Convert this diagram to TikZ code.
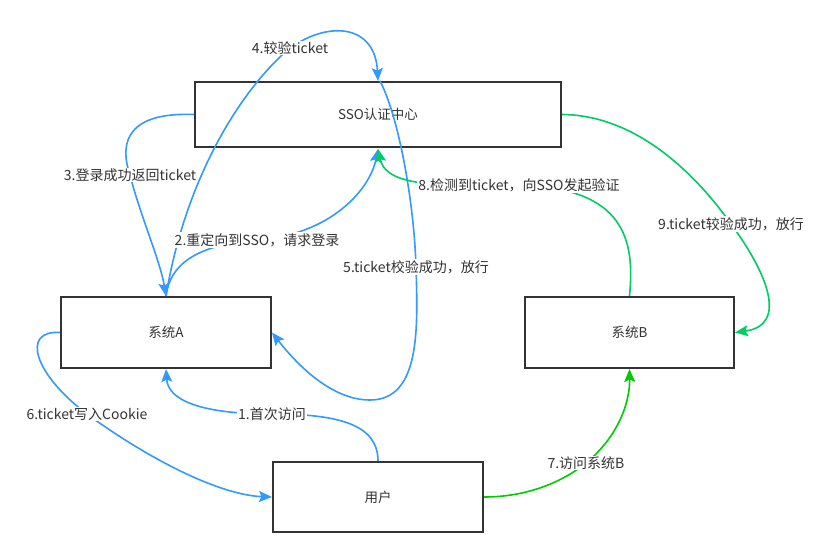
\documentclass[tikz,border=0pt]{standalone}
\usepackage{fontspec}
\setmainfont{Noto Sans CJK SC}
\usetikzlibrary{arrows.meta}
\definecolor{eblue}{HTML}{3399FF}
\definecolor{egreen}{HTML}{00CC00}
\definecolor{egreentwo}{HTML}{00CC66}
\definecolor{txt}{HTML}{333333}
\definecolor{bord}{HTML}{333333}
\tikzset{
  box/.style={draw=bord, line width=2pt, fill=white, minimum width=#1, inner sep=0pt, text=txt, font=\fontsize{13.5}{15}\selectfont},
  lab/.style={fill=white, text=txt, inner sep=1pt, font=\fontsize{14}{16}\selectfont},
  conn/.style={line width=1.6pt, -{Stealth[length=13pt,width=11pt,inset=2.5pt]}},
  bluec/.style={conn, draw=eblue, color=eblue},
  greenc/.style={conn, draw=egreen, color=egreen},
  greenc2/.style={conn, draw=egreentwo, color=egreentwo}
}
\begin{document}
\begin{tikzpicture}[x=1pt,y=-1pt]
\useasboundingbox (0,0) rectangle (835,536);
% nodes
\node[box=366pt, minimum height=65pt] (sso) at (378,114.5) {SSO认证中心};
\node[box=210pt, minimum height=71pt] (A) at (166,332.5) {系统A};
\node[box=209pt, minimum height=71pt] (B) at (629.5,332.5) {系统B};
\node[box=210pt, minimum height=70pt] (U) at (378,497) {用户};
% label anchor coordinates
\coordinate (l1) at (272,414);
\coordinate (l2) at (257,240);
\coordinate (l3) at (130,175);
\coordinate (l4) at (290,48);
\coordinate (l5) at (416,267);
\coordinate (l6) at (87,414);
\coordinate (l7) at (586,463);
\coordinate (l8) at (519,185);
\coordinate (l9) at (731,224);
% connectors
\draw[bluec] (U.north) .. controls (378,425) and (340,414) .. (l1) .. controls (200,414) and (168,400) .. (A.south);
\draw[bluec] (A.north) .. controls (170,265) and (195,245) .. (l2) .. controls (330,235) and (370,190) .. ([yshift=-1pt]sso.south);
\draw[bluec] (sso.west) .. controls (130,112) and (118,140) .. (l3) .. controls (140,215) and (160,260) .. (A.north);
\draw[bluec] (A.north) .. controls (185,180) and (240,90) .. (l4) .. controls (330,20) and (375,25) .. (sso.north);
\draw[bluec] ([xshift=2pt]sso.north) .. controls (398,115) and (414,200) .. (l5) .. controls (418,330) and (420,400) .. (370,400) .. controls (330,400) and (295,362) .. (A.east);
\draw[bluec] (A.west) .. controls (20,330) and (35,375) .. (l6) .. controls (150,460) and (220,495) .. (U.west);
\draw[greenc] (U.east) .. controls (530,497) and (565,480) .. (l7) .. controls (620,435) and (630,400) .. (B.south);
\draw[greenc2] (B.north) .. controls (635,240) and (625,188) .. (l8) .. controls (420,188) and (385,182) .. ([yshift=-1pt]sso.south);
\draw[greenc2] (sso.east) .. controls (640,115) and (700,180) .. (l9) .. controls (765,270) and (790,325) .. (B.east);
% labels
\node[lab] at (l1) {1.首次访问};
\node[lab] at (l2) {2.重定向到SSO，请求登录};
\node[lab] at (l3) {3.登录成功返回ticket};
\node[lab] at (l4) {4.较验ticket};
\node[lab] at (l5) {5.ticket校验成功，放行};
\node[lab] at (l6) {6.ticket写入Cookie};
\node[lab] at (l7) {7.访问系统B};
\node[lab] at (l8) {8.检测到ticket，向SSO发起验证};
\node[lab] at (l9) {9.ticket较验成功，放行};
\end{tikzpicture}
\end{document}
